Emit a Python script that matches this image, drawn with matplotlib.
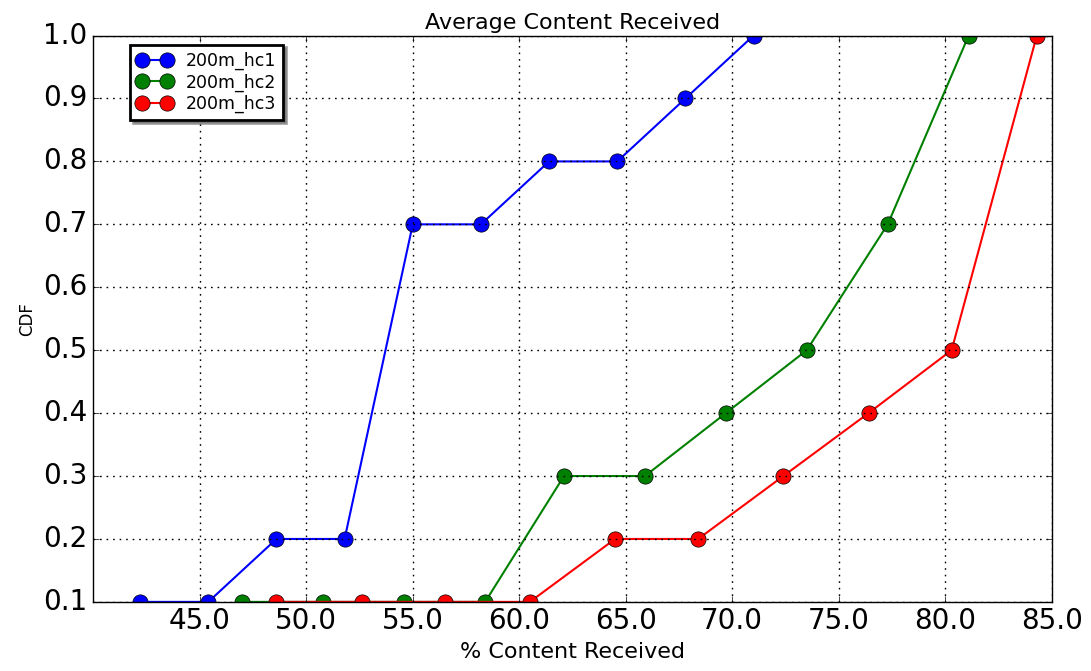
import matplotlib
matplotlib.use('Agg')
import matplotlib.pyplot as plt

plt.style.use('classic')

hc1_x = [42.2, 45.4, 48.6, 51.8, 55.0, 58.2, 61.4, 64.6, 67.8, 71.0]
hc1_y = [0.1, 0.1, 0.2, 0.2, 0.7, 0.7, 0.8, 0.8, 0.9, 1.0]

hc2_x = [47.0, 50.8, 54.6, 58.4, 62.1, 65.9, 69.7, 73.5, 77.3, 81.1]
hc2_y = [0.1, 0.1, 0.1, 0.1, 0.3, 0.3, 0.4, 0.5, 0.7, 1.0]

hc3_x = [48.6, 52.6, 56.5, 60.5, 64.5, 68.4, 72.4, 76.4, 80.3, 84.3]
hc3_y = [0.1, 0.1, 0.1, 0.1, 0.2, 0.2, 0.3, 0.4, 0.5, 1.0]

xticks = [45, 50, 55, 60, 65, 70, 75, 80, 85]
yticks = [0.1, 0.2, 0.3, 0.4, 0.5, 0.6, 0.7, 0.8, 0.9, 1.0]

fig = plt.figure(figsize=(10.91, 6.71), dpi=100, facecolor='white')
ax = fig.add_axes([0.0855, 0.103, 0.8785, 0.844])

lines = []
lines += ax.plot(hc1_x, hc1_y, 'bo-', label='200m_hc1', markersize=11, linewidth=1.5)
lines += ax.plot(hc2_x, hc2_y, 'go-', label='200m_hc2', markersize=11, linewidth=1.5)
lines += ax.plot(hc3_x, hc3_y, 'ro-', label='200m_hc3', markersize=11, linewidth=1.5)
# clip the markers at the axes edge like the original
for ln in lines:
    ln.set_clip_path(ax.patch)

ax.set_xlim(40, 85)
ax.set_ylim(0.1, 1.0)
ax.set_xticks(xticks)
ax.set_yticks(yticks)
ax.set_xticklabels(['%.1f' % t for t in xticks], fontsize=20)
ax.set_yticklabels(['%.1f' % t for t in yticks], fontsize=20)
ax.grid(True, color='k', linestyle=(0, (1.2, 3.5)), linewidth=1)

ax.set_title('Average Content Received', fontsize=16)
ax.set_xlabel('% Content Received', fontsize=16)
ax.set_ylabel('CDF', fontsize=12)

leg = ax.legend(loc='upper left', bbox_to_anchor=(0.035, 0.99), numpoints=2,
                fontsize=12.5, shadow=True, fancybox=False, borderaxespad=0.2,
                handlelength=2, labelspacing=0.2, handletextpad=0.8,
                borderpad=0.4)
leg.get_frame().set_linewidth(2)

fig.savefig('out.png', dpi=100, facecolor='white')
